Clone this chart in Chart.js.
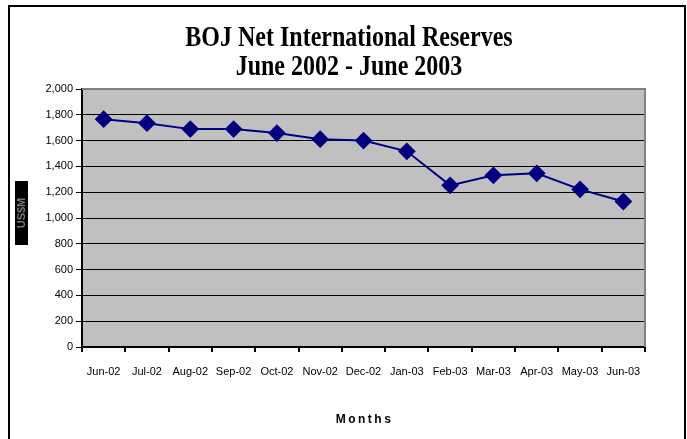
<!DOCTYPE html>
<html>
<head>
<meta charset="utf-8">
<script src="https://cdn.jsdelivr.net/npm/chart.js@4/dist/chart.umd.min.js"></script>
<style>
  html, body { margin: 0; padding: 0; background: #fff; }
  #wrap { width: 687px; height: 439px; }
</style>
</head>
<body>
<div id="wrap"><canvas id="c" width="687" height="439"></canvas></div>
<script>
// data
const months = ['Jun-02', 'Jul-02', 'Aug-02', 'Sep-02', 'Oct-02', 'Nov-02', 'Dec-02',
                'Jan-03', 'Feb-03', 'Mar-03', 'Apr-03', 'May-03', 'Jun-03'];
const reserves = [1766, 1735, 1689, 1689, 1658, 1611, 1600, 1517, 1253, 1331, 1346, 1222, 1128];
const titleLines = ['BOJ Net International Reserves', 'June 2002 - June 2003'];
const yLabel = 'US$M';
const xLabel = 'Months';

// frame, grey plot, tall serif title, boxed y label, spaced x label
const decor = {
  id: 'decor',
  beforeDraw(chart) {
    const ctx = chart.ctx;
    const a = chart.chartArea;
    ctx.save();
    ctx.fillStyle = '#fff';
    ctx.fillRect(0, 0, chart.width, chart.height);
    ctx.strokeStyle = '#000';
    ctx.lineWidth = 2;
    ctx.strokeRect(9, 6, 676, 440);
    ctx.fillStyle = '#c0c0c0';
    ctx.fillRect(a.left, a.top, a.right - a.left, a.bottom - a.top);
    ctx.restore();
  },
  afterDraw(chart) {
    const ctx = chart.ctx;
    const a = chart.chartArea;
    const mid = (a.left + a.right) / 2;
    ctx.save();
    // grey border on top / right of plot
    ctx.strokeStyle = '#808080';
    ctx.lineWidth = 2;
    ctx.beginPath();
    ctx.moveTo(a.left, a.top);
    ctx.lineTo(a.right, a.top);
    ctx.lineTo(a.right, a.bottom);
    ctx.stroke();
    ctx.restore();

    // title, stretched a bit vertically like the original
    ctx.save();
    ctx.fillStyle = '#000';
    ctx.font = 'bold 24px "Liberation Serif", "Times New Roman"';
    ctx.textAlign = 'center';
    ctx.textBaseline = 'alphabetic';
    ctx.scale(1, 1.25);
    ctx.fillText(titleLines[0], 349, 46 / 1.25);
    ctx.fillText(titleLines[1], 349, 75 / 1.25);
    ctx.restore();

    // x axis title
    ctx.save();
    ctx.fillStyle = '#000';
    ctx.font = 'bold 12px "Liberation Sans", Arial';
    ctx.letterSpacing = '2.5px';
    ctx.textAlign = 'center';
    ctx.textBaseline = 'alphabetic';
    ctx.fillText(xLabel, mid + 1, 423);
    ctx.restore();

    // y label box
    ctx.save();
    ctx.translate(21, 213);
    ctx.rotate(-Math.PI / 2);
    ctx.fillStyle = '#000';
    ctx.fillRect(-32, -6, 64, 13);
    ctx.fillStyle = '#777';
    ctx.font = 'bold 11px "Liberation Sans", Arial';
    ctx.textAlign = 'center';
    ctx.textBaseline = 'middle';
    ctx.fillText(yLabel, 0, 1);
    ctx.restore();
  }
};

new Chart(document.getElementById('c'), {
  type: 'line',
  data: {
    labels: months,
    datasets: [{
      data: reserves,
      borderColor: '#000080',
      backgroundColor: '#000080',
      borderWidth: 2,
      pointStyle: 'rectRot',
      pointRadius: 7.5,
      pointHoverRadius: 7.5,
      tension: 0
    }]
  },
  options: {
    responsive: false,
    animation: false,
    layout: { padding: { left: 18, right: 42, top: 89, bottom: 10 } },
    plugins: {
      legend: { display: false },
      tooltip: { enabled: false },
      title: { display: false }
    },
    scales: {
      x: {
        offset: true,
        afterFit(s) { s.height = 82; },
        border: { color: '#000', width: 2 },
        grid: { offset: true, drawOnChartArea: false, drawTicks: true, tickLength: 5, color: '#000', lineWidth: 2 },
        ticks: { color: '#000', font: { family: '"Liberation Sans", Arial', size: 11 }, maxRotation: 0, autoSkip: false, padding: 13 }
      },
      y: {
        min: 0, max: 2000,
        afterFit(s) { s.width = 64; },
        border: { color: '#000', width: 2 },
        grid: { color: '#000', lineWidth: 1, tickLength: 6, drawTicks: true },
        ticks: {
          stepSize: 200, color: '#000', padding: 3,
          font: { family: '"Liberation Sans", Arial', size: 11 },
          callback: v => v.toLocaleString('en-US')
        }
      }
    }
  },
  plugins: [decor]
});
</script>
</body>
</html>
